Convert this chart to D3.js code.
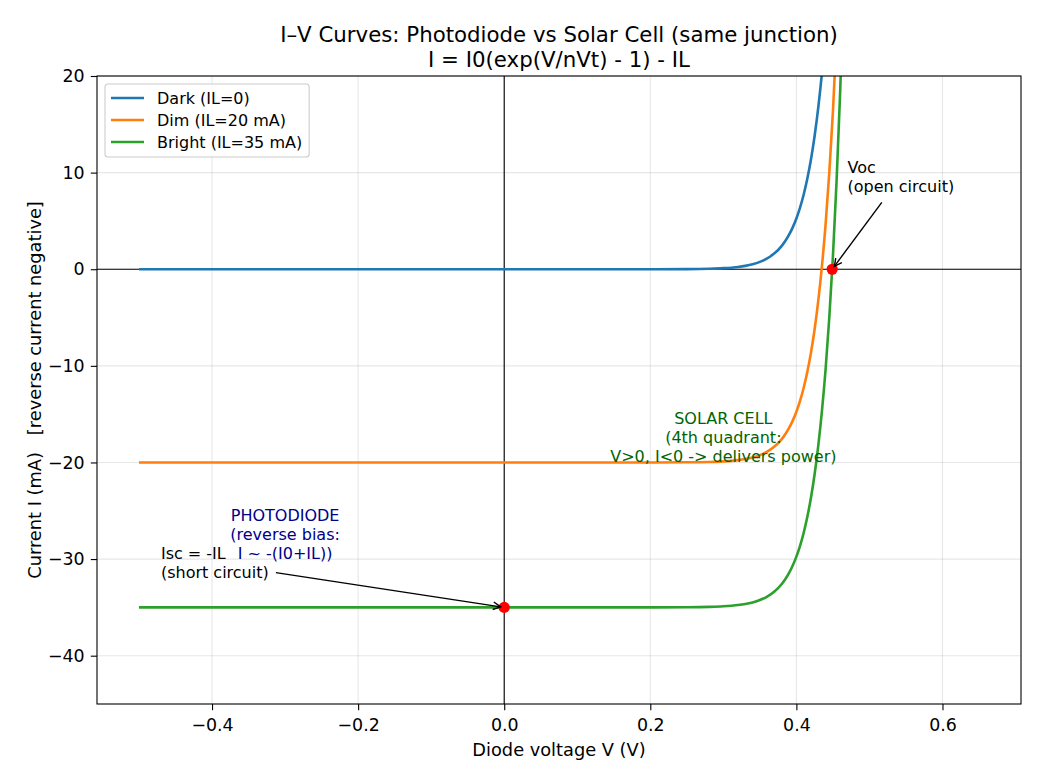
<!DOCTYPE html>
<html>
<head>
<meta charset="utf-8">
<script src="https://cdn.jsdelivr.net/npm/d3@7"></script>
<style>
  body { margin: 0; background: #fff; }
  svg text { font-family: "DejaVu Sans", sans-serif; fill: #000; }
</style>
</head>
<body>
<svg id="chart"></svg>
<script>
// values (mA vs V)
const voltage = [-0.5, -0.4, -0.3, -0.2, -0.1, 0, 0.1, 0.2, 0.25, 0.28, 0.3, 0.32, 0.33, 0.34, 0.35, 0.36,
  0.37, 0.38, 0.385, 0.39, 0.395, 0.4, 0.405, 0.41, 0.415, 0.42, 0.425, 0.43, 0.435, 0.44, 0.445, 0.45,
  0.455, 0.46, 0.465, 0.47];
const darkCurrent = [0, 0, 0, 0, 0, 0, 0, 0.002, 0.016, 0.051, 0.11, 0.238, 0.35, 0.515, 0.759, 1.118,
  1.645, 2.42, 2.94, 3.57, 4.33, 5.25, 6.37, 7.73, 9.38, 11.38, 13.81, 16.77, 20.34, 24.66, 29.95, 36.3,
  44.1, 53.5, 65.0, 78.8];
const dimCurrent = [-20, -20, -20, -20, -20, -20, -20, -19.998, -19.984, -19.949, -19.89, -19.762, -19.65,
  -19.485, -19.241, -18.882, -18.355, -17.58, -17.06, -16.43, -15.67, -14.75, -13.63, -12.27, -10.62,
  -8.62, -6.19, -3.23, 0.34, 4.66, 9.95, 16.3, 24.1, 33.5, 45.0, 58.8];
const brightCurrent = [-35, -35, -35, -35, -35, -35, -35, -34.998, -34.984, -34.949, -34.89, -34.762,
  -34.65, -34.485, -34.241, -33.882, -33.355, -32.58, -32.06, -31.43, -30.67, -29.75, -28.63, -27.27,
  -25.62, -23.62, -21.19, -18.23, -14.66, -10.34, -5.05, 1.3, 9.1, 18.5, 30.0, 43.8];

const seriesNames = ["Dark (IL=0)", "Dim (IL=20 mA)", "Bright (IL=35 mA)"];
const seriesColors = ["#1f77b4", "#ff7f0e", "#2ca02c"];
const seriesValues = [darkCurrent, dimCurrent, brightCurrent];

const xTicks = [-0.4, -0.2, 0.0, 0.2, 0.4, 0.6];
const yTicks = [-40, -30, -20, -10, 0, 10, 20];

const vocPoint = [0.449, 0];
const iscPoint = [0, -35];

const width = 1040;
const height = 780;
const margin = { top: 76, right: 19, bottom: 76, left: 97 };
const plotW = width - margin.left - margin.right;
const plotH = height - margin.top - margin.bottom;

const svg = d3.select("#chart").attr("width", width).attr("height", height);

const x = d3.scaleLinear().domain([-0.5575, 0.7075]).range([0, plotW]);
const y = d3.scaleLinear().domain([-45, 20]).range([plotH, 0]);

const g = svg.append("g").attr("transform", `translate(${margin.left},${margin.top})`);

g.append("clipPath").attr("id", "clip")
  .append("rect").attr("width", plotW).attr("height", plotH);

// grid
g.append("g").selectAll("line").data(xTicks).enter().append("line")
  .attr("x1", d => x(d)).attr("x2", d => x(d)).attr("y1", 0).attr("y2", plotH)
  .attr("stroke", "#b0b0b0").attr("stroke-opacity", 0.3).attr("stroke-width", 1.1);
g.append("g").selectAll("line").data(yTicks).enter().append("line")
  .attr("x1", 0).attr("x2", plotW).attr("y1", d => y(d)).attr("y2", d => y(d))
  .attr("stroke", "#b0b0b0").attr("stroke-opacity", 0.3).attr("stroke-width", 1.1);

// zero lines
g.append("line").attr("x1", 0).attr("x2", plotW).attr("y1", y(0)).attr("y2", y(0))
  .attr("stroke", "#000").attr("stroke-width", 1.1);
g.append("line").attr("x1", x(0)).attr("x2", x(0)).attr("y1", 0).attr("y2", plotH)
  .attr("stroke", "#000").attr("stroke-width", 1.1);

// curves
const line = d3.line()
  .x(d => x(d[0]))
  .y(d => y(d[1]))
  .curve(d3.curveMonotoneX);

seriesValues.forEach((vals, i) => {
  g.append("path")
    .datum(voltage.map((v, j) => [v, vals[j]]))
    .attr("clip-path", "url(#clip)")
    .attr("fill", "none")
    .attr("stroke", seriesColors[i])
    .attr("stroke-width", 2.6)
    .attr("d", line);
});

// markers
g.selectAll(".pt").data([vocPoint, iscPoint]).enter().append("circle")
  .attr("class", "pt")
  .attr("cx", d => x(d[0])).attr("cy", d => y(d[1])).attr("r", 5.6)
  .attr("fill", "#ff0000");

// multi-line text, last line baseline at anchor
const multiText = (lines, vx, vy, anchor, color) => {
  const lh = 19.2;
  const t = g.append("text")
    .attr("font-size", 16)
    .attr("text-anchor", anchor)
    .style("fill", color);
  lines.forEach((s, i) => {
    t.append("tspan")
      .attr("x", x(vx))
      .attr("y", y(vy) - (lines.length - 1 - i) * lh)
      .text(s);
  });
  return t;
};

const arrow = (textSel, target) => {
  const b = textSel.node().getBBox();
  const pad = 3.6, shrink = 3.6;
  const cx = b.x + b.width / 2, cy = b.y + b.height / 2;
  const tx = x(target[0]), ty = y(target[1]);
  const dx = tx - cx, dy = ty - cy;
  const len = Math.hypot(dx, dy);
  const ux = dx / len, uy = dy / len;
  const hw = b.width / 2 + pad, hh = b.height / 2 + pad;
  const t = Math.min(hw / Math.abs(dx || 1e-9), hh / Math.abs(dy || 1e-9));
  const sx = cx + dx * t + ux * shrink, sy = cy + dy * t + uy * shrink;
  const ex = tx - ux * shrink, ey = ty - uy * shrink;
  g.append("line").attr("x1", sx).attr("y1", sy).attr("x2", ex).attr("y2", ey)
    .attr("stroke", "#000").attr("stroke-width", 1.4);
  const hl = 7.5, hwid = 3.8;
  const bx = ex - ux * hl, by = ey - uy * hl;
  g.append("path")
    .attr("d", `M${bx - uy * hwid},${by + ux * hwid}L${ex},${ey}L${bx + uy * hwid},${by - ux * hwid}`)
    .attr("fill", "none").attr("stroke", "#000").attr("stroke-width", 1.4);
};

const vocText = multiText(["Voc", "(open circuit)"], 0.47, 8, "start", "#000");
arrow(vocText, vocPoint);
const iscText = multiText(["Isc = -IL", "(short circuit)"], -0.47, -32, "start", "#000");
arrow(iscText, iscPoint);

multiText(["PHOTODIODE", "(reverse bias:", "I ~ -(I0+IL))"], -0.3, -30, "middle", "#00008b");
multiText(["SOLAR CELL", "(4th quadrant:", "V>0, I<0 -> delivers power)"], 0.3, -20, "middle", "#006400");

// frame
g.append("rect").attr("width", plotW).attr("height", plotH)
  .attr("fill", "none").attr("stroke", "#000").attr("stroke-width", 1.1);

// axes
const xAxis = d3.axisBottom(x).tickValues(xTicks).tickFormat(d3.format(".1f"))
  .tickSizeInner(6.2).tickSizeOuter(0).tickPadding(8.5);
const yAxis = d3.axisLeft(y).tickValues(yTicks).tickFormat(d3.format("d"))
  .tickSizeInner(6.2).tickSizeOuter(0).tickPadding(6.2);

const gx = g.append("g").attr("transform", `translate(0,${plotH})`).call(xAxis);
const gy = g.append("g").call(yAxis);
[gx, gy].forEach(a => {
  a.select(".domain").remove();
  a.selectAll("line").attr("stroke", "#000").attr("stroke-width", 1.1);
  a.selectAll("text").attr("font-size", 17.4).style("font-family", "DejaVu Sans");
});

// labels
svg.append("text").attr("x", margin.left + plotW / 2).attr("y", 756)
  .attr("text-anchor", "middle").attr("font-size", 17.8).text("Diode voltage V (V)");
svg.append("text").attr("transform", `translate(41,${margin.top + plotH / 2}) rotate(-90)`)
  .attr("text-anchor", "middle").attr("font-size", 17.8)
  .style("white-space", "pre")
  .text("Current I (mA)   [reverse current negative]");

svg.append("text").attr("x", margin.left + plotW / 2).attr("y", 41.7)
  .attr("text-anchor", "middle").attr("font-size", 21.3)
  .text("I–V Curves: Photodiode vs Solar Cell (same junction)");
svg.append("text").attr("x", margin.left + plotW / 2).attr("y", 67.3)
  .attr("text-anchor", "middle").attr("font-size", 21.3)
  .text("I = I0(exp(V/nVt) - 1) - IL");

// legend
const legend = g.append("g").attr("transform", "translate(8,8)");
const legBox = legend.append("rect")
  .attr("rx", 3).attr("fill", "#fff").attr("fill-opacity", 0.8)
  .attr("stroke", "#cccccc").attr("stroke-width", 1.1);
const items = legend.selectAll(".item").data(seriesNames).enter().append("g")
  .attr("transform", (d, i) => `translate(0,${14 + i * 22})`);
items.append("line").attr("x1", 6).attr("x2", 39).attr("y1", 0).attr("y2", 0)
  .attr("stroke", (d, i) => seriesColors[i]).attr("stroke-width", 2.6);
items.append("text").attr("x", 52).attr("y", 5.6).attr("font-size", 16).text(d => d);
const maxW = d3.max(items.selectAll("text").nodes(), n => n.getComputedTextLength());
legBox.attr("width", 52 + maxW + 7).attr("height", 73);
</script>
</body>
</html>
